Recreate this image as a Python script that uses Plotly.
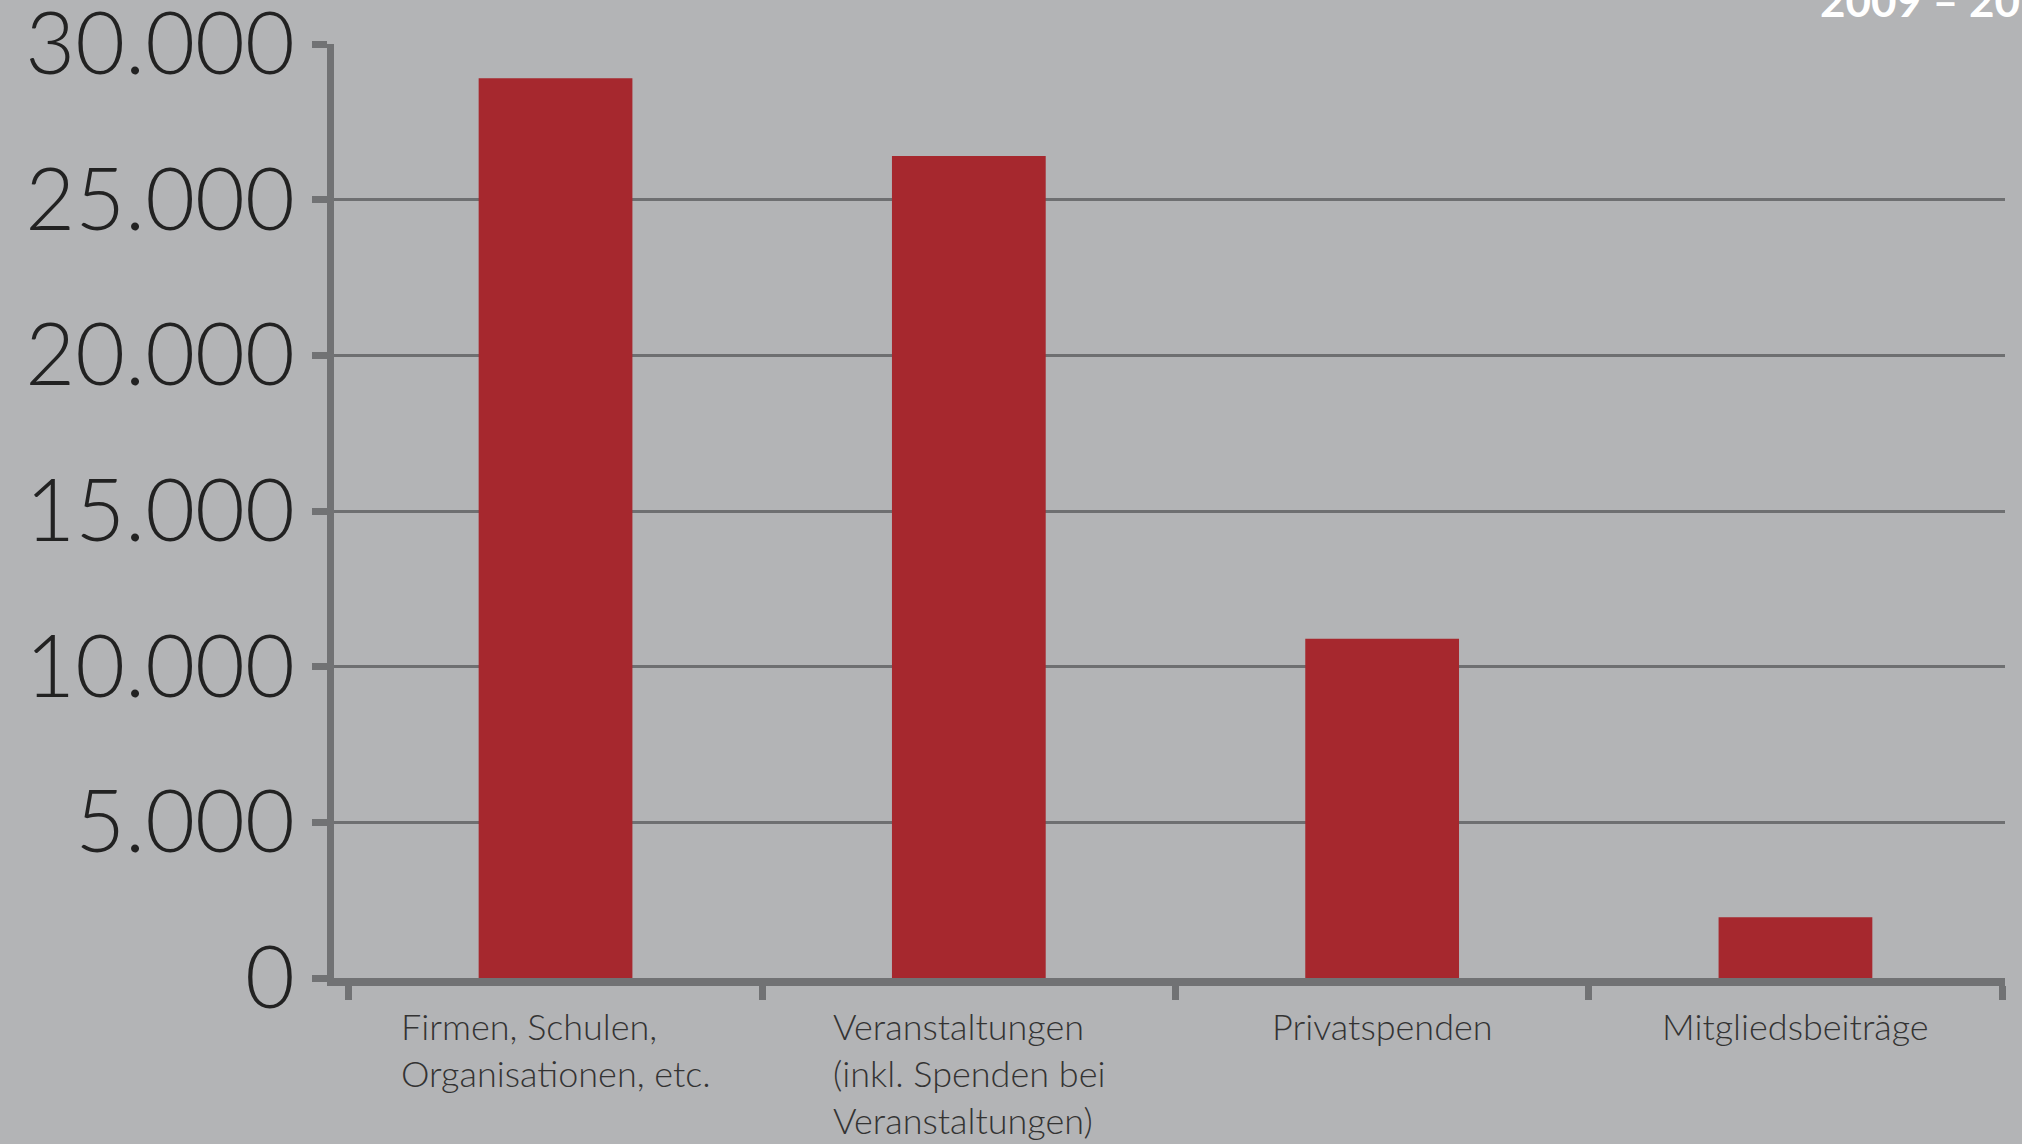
import plotly.graph_objects as go

categories = ["Firmen, Schulen,<br>Organisationen, etc.",
              "Veranstaltungen<br>(inkl. Spenden bei<br>Veranstaltungen)",
              "Privatspenden",
              "Mitgliedsbeiträge"]
values = [28900, 26400, 10900, 1950]
y_ticks = [0, 5000, 10000, 15000, 20000, 25000, 30000]
y_tick_labels = ["0", "5.000", "10.000", "15.000", "20.000", "25.000", "30.000"]
corner_text = "2009 – 20"

BG = "#b3b4b6"
BAR = "#a6282e"
AXIS = "#717274"
GRID = "#6e6f71"
FONT = "Lato"

W, H = 2022, 1144
ML, MR, MT, MB = 334, 17, 44, 166
plot_w = W - ML - MR
plot_h = H - MT - MB

fig = go.Figure()
fig.add_trace(go.Bar(x=categories, y=values, marker=dict(color=BAR, line=dict(width=0)),
                     width=0.372, hoverinfo="skip"))

for c in categories:
    fig.add_annotation(x=c, y=0, xref="x", yref="y", text=c, showarrow=False,
                       align="left", xanchor="center", yanchor="top", yshift=-24,
                       font=dict(family=FONT, size=36, color="#333333", weight=300))

# corner label, partially cut off at the top edge as in the reference
fig.add_annotation(x=(1818 - ML) / plot_w, y=(H - MB - 28) / plot_h, xref="paper", yref="paper",
                   text=corner_text, showarrow=False, xanchor="left", yanchor="bottom",
                   font=dict(family=FONT, size=44, color="white", weight=700))

fig.update_layout(
    width=W, height=H,
    paper_bgcolor=BG, plot_bgcolor=BG,
    margin=dict(l=ML, r=MR, t=MT, b=MB, pad=0, autoexpand=False),
    showlegend=False,
    xaxis=dict(type="category", range=[-0.536, 3.507], showticklabels=False,
               tickson="boundaries", ticks="outside", ticklen=14, tickwidth=7, tickcolor=AXIS,
               showline=True, linecolor=AXIS, linewidth=8, showgrid=False, zeroline=False,
               fixedrange=True, automargin=False),
    yaxis=dict(range=[0, 30000], tickvals=y_ticks, ticktext=y_tick_labels,
               ticks="outside", ticklen=15, tickwidth=7, tickcolor=AXIS,
               showline=True, linecolor=AXIS, linewidth=7,
               showgrid=True, gridcolor=GRID, gridwidth=3, zeroline=False,
               tickfont=dict(family=FONT, size=86, color="#222222", weight=300),
               ticklabelstandoff=0, ticklabeloverflow="allow", fixedrange=True,
               automargin=False),
)

fig.write_html("out.html", config=dict(displayModeBar=False),
               post_script="document.body.style.margin='0';document.body.style.background='" + BG + "';")
